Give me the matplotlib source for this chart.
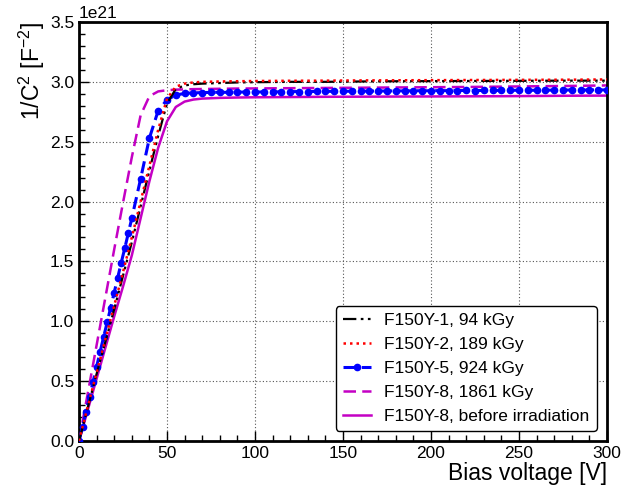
import numpy as np
import matplotlib
matplotlib.use('Agg')
import matplotlib.pyplot as plt
from matplotlib.ticker import MultipleLocator

plt.rcParams['font.family'] = ['Liberation Sans', 'DejaVu Sans']
plt.rcParams['mathtext.default'] = 'regular'

# Bias voltages (V) for the unmarked curves
volt = [0, 5, 10, 15, 20, 25, 30, 35, 40, 45, 50, 55, 60, 65, 70, 80, 90,
        100, 120, 140, 160, 180, 200, 220, 240, 260, 280, 300]

# 1/C^2 in units of 1e21 F^-2
inv_c2_y1 = [0, 0.28, 0.56, 0.83, 1.10, 1.38, 1.66, 1.96, 2.26, 2.55, 2.82,
             2.94, 2.97, 2.98, 2.985, 2.99, 2.995, 2.997, 3.0, 3.0, 3.003,
             3.005, 3.006, 3.007, 3.008, 3.009, 3.01, 3.01]
inv_c2_y2 = [0, 0.29, 0.57, 0.85, 1.13, 1.41, 1.70, 2.0, 2.30, 2.60, 2.86,
             2.96, 2.985, 2.995, 3.0, 3.003, 3.005, 3.007, 3.009, 3.01, 3.012,
             3.013, 3.014, 3.015, 3.016, 3.017, 3.018, 3.02]
inv_c2_y8 = [0, 0.40, 0.80, 1.20, 1.60, 1.99, 2.37, 2.72, 2.88, 2.92, 2.93,
             2.935, 2.937, 2.939, 2.94, 2.942, 2.944, 2.945, 2.947, 2.949, 2.951,
             2.953, 2.955, 2.957, 2.96, 2.963, 2.966, 2.97]
inv_c2_y8_pre = [0, 0.26, 0.52, 0.78, 1.04, 1.29, 1.55, 1.86, 2.17, 2.45, 2.67,
                 2.79, 2.835, 2.852, 2.86, 2.866, 2.869, 2.871, 2.873, 2.875, 2.876,
                 2.877, 2.878, 2.879, 2.88, 2.882, 2.884, 2.885]

# F150Y-5 was measured on a finer grid (drawn with markers)
volt_y5 = [0, 2, 4, 6, 8, 10, 12, 14, 16, 18, 20, 22, 24, 26, 28, 30,
           35, 40, 45, 50, 55, 60, 65, 70, 75, 80, 85, 90, 95, 100,
           105, 110, 115, 120, 125, 130, 135, 140, 145, 150, 155, 160, 165, 170,
           175, 180, 185, 190, 195, 200, 205, 210, 215, 220, 225, 230, 235, 240,
           245, 250, 255, 260, 265, 270, 275, 280, 285, 290, 295, 300]
inv_c2_y5 = [0, 0.12, 0.245, 0.37, 0.495, 0.62, 0.745, 0.87, 0.99, 1.115, 1.24,
             1.365, 1.49, 1.61, 1.735, 1.86,
             2.19, 2.53, 2.76, 2.85, 2.89, 2.903, 2.908, 2.91, 2.912, 2.913,
             2.912, 2.914, 2.915, 2.914, 2.916, 2.917, 2.916, 2.918, 2.919, 2.918,
             2.92, 2.921, 2.92, 2.922, 2.921, 2.923, 2.922, 2.924, 2.923, 2.925,
             2.924, 2.925, 2.926, 2.925, 2.927, 2.926, 2.927, 2.928, 2.927, 2.928,
             2.929, 2.928, 2.929, 2.93, 2.929, 2.93, 2.931, 2.93, 2.931, 2.932,
             2.931, 2.932, 2.933, 2.932]

scale = 1e21
magenta = '#c400c4'

fig = plt.figure(figsize=(6.24, 4.95), dpi=100)
ax = fig.add_axes([0.1266, 0.1091, 0.8462, 0.8465])

ax.plot(volt, np.array(inv_c2_y1) * scale, color='black', lw=1.6,
        dashes=(6, 2, 1.2, 2, 1.2, 2), label='F150Y-1, 94 kGy', zorder=4)
ax.plot(volt, np.array(inv_c2_y2) * scale, color='red', lw=1.8,
        dashes=(1, 1.6), label='F150Y-2, 189 kGy', zorder=5)
ax.plot(volt_y5, np.array(inv_c2_y5) * scale, color='blue', lw=2.2,
        dashes=(4, 2), marker='o', ms=4.5, label='F150Y-5, 924 kGy', zorder=3)
ax.plot(volt, np.array(inv_c2_y8) * scale, color=magenta, lw=1.8,
        dashes=(5, 2.5), label='F150Y-8, 1861 kGy', zorder=2)
ax.plot(volt, np.array(inv_c2_y8_pre) * scale, color=magenta, lw=1.8,
        label='F150Y-8, before irradiation', zorder=2)

ax.set_xlim(0, 300)
ax.set_ylim(0, 3.5e21)
ax.xaxis.set_major_locator(MultipleLocator(50))
ax.xaxis.set_minor_locator(MultipleLocator(10))
ax.yaxis.set_major_locator(MultipleLocator(0.5e21))
ax.yaxis.set_minor_locator(MultipleLocator(0.1e21))
ax.tick_params(which='both', direction='in', labelsize=12.5, width=1)
ax.tick_params(which='major', length=7)
ax.tick_params(which='minor', length=4)
ax.yaxis.get_offset_text().set_fontsize(12.5)
for sp in ax.spines.values():
    sp.set_linewidth(2)

ax.grid(True, which='major', color='#555555', ls=(0, (1, 2)), lw=0.8)

ax.set_xlabel('Bias voltage [V]', fontsize=16.5, loc='right', labelpad=1)
ax.set_ylabel('1/C$^2$ [F$^{-2}$]', fontsize=16.5, loc='top', labelpad=2)

leg = ax.legend(loc='lower right', fontsize=12.5, frameon=True, fancybox=True,
                edgecolor='black', framealpha=1, handlelength=1.6,
                borderaxespad=0.6, labelspacing=0.5)
leg.get_frame().set_linewidth(1)

fig.savefig('out.png', dpi=100)
